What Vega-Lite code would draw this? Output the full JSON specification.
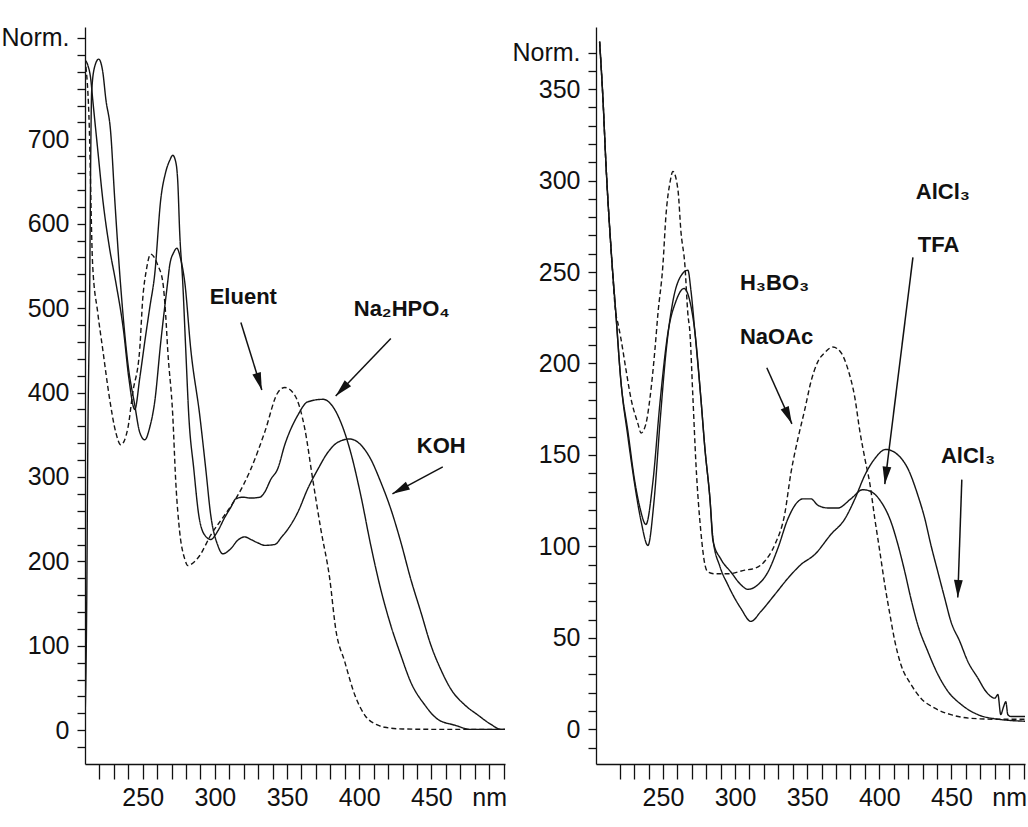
{
  "$schema": "https://vega.github.io/schema/vega-lite/v6.json",
  "background": "white",
  "padding": {"left": 0, "top": 25, "right": 0, "bottom": 0},
  "spacing": 4,
  "config": {
    "view": {"stroke": null},
    "axis": {
      "grid": false,
      "domainColor": "#111111",
      "domainWidth": 1.3,
      "tickColor": "#111111",
      "tickWidth": 1.3,
      "labelColor": "#111111",
      "labelFont": "Liberation Sans, Arial, sans-serif",
      "labelFontSize": 25,
      "labelOverlap": false,
      "labelFlush": false,
      "labelBound": false,
      "tickCount": 200
    }
  },
  "datasets": {
    "left_curves": [
      {"series": "Eluent", "nm": 210, "v": 795}, {"series": "Eluent", "nm": 210.5, "v": 788}, {"series": "Eluent", "nm": 212.7, "v": 729}, {"series": "Eluent", "nm": 215.3, "v": 551}, {"series": "Eluent", "nm": 218.8, "v": 495}, {"series": "Eluent", "nm": 222.3, "v": 451}, {"series": "Eluent", "nm": 227.1, "v": 392}, {"series": "Eluent", "nm": 231.3, "v": 353}, {"series": "Eluent", "nm": 234.8, "v": 338}, {"series": "Eluent", "nm": 239.6, "v": 357}, {"series": "Eluent", "nm": 243.1, "v": 400}, {"series": "Eluent", "nm": 247.9, "v": 451}, {"series": "Eluent", "nm": 250, "v": 511}, {"series": "Eluent", "nm": 252.5, "v": 545}, {"series": "Eluent", "nm": 255.5, "v": 564}, {"series": "Eluent", "nm": 258, "v": 560}, {"series": "Eluent", "nm": 260.4, "v": 551}, {"series": "Eluent", "nm": 263.9, "v": 531}, {"series": "Eluent", "nm": 265.9, "v": 492}, {"series": "Eluent", "nm": 267.3, "v": 451}, {"series": "Eluent", "nm": 270.8, "v": 373}, {"series": "Eluent", "nm": 272.9, "v": 294}, {"series": "Eluent", "nm": 275.6, "v": 235}, {"series": "Eluent", "nm": 279.1, "v": 203}, {"series": "Eluent", "nm": 281.2, "v": 195}, {"series": "Eluent", "nm": 284, "v": 197}, {"series": "Eluent", "nm": 289.5, "v": 207}, {"series": "Eluent", "nm": 297.1, "v": 231}, {"series": "Eluent", "nm": 306.8, "v": 255}, {"series": "Eluent", "nm": 314.4, "v": 274}, {"series": "Eluent", "nm": 324.8, "v": 309}, {"series": "Eluent", "nm": 334.5, "v": 353}, {"series": "Eluent", "nm": 343.6, "v": 400}, {"series": "Eluent", "nm": 348.4, "v": 406}, {"series": "Eluent", "nm": 355.3, "v": 397}, {"series": "Eluent", "nm": 362.3, "v": 357}, {"series": "Eluent", "nm": 367.8, "v": 297}, {"series": "Eluent", "nm": 373.4, "v": 238}, {"series": "Eluent", "nm": 379.6, "v": 179}, {"series": "Eluent", "nm": 383.7, "v": 120}, {"series": "Eluent", "nm": 390, "v": 81}, {"series": "Eluent", "nm": 397, "v": 41.5}, {"series": "Eluent", "nm": 403.8, "v": 18}, {"series": "Eluent", "nm": 412.9, "v": 6}, {"series": "Eluent", "nm": 417.7, "v": 3.5}, {"series": "Eluent", "nm": 430, "v": 1.5}, {"series": "Eluent", "nm": 460, "v": 1}, {"series": "Eluent", "nm": 501, "v": 1},
      {"series": "Na2HPO4", "nm": 210, "v": 794}, {"series": "Na2HPO4", "nm": 211.9, "v": 788}, {"series": "Na2HPO4", "nm": 214, "v": 771}, {"series": "Na2HPO4", "nm": 215.3, "v": 748}, {"series": "Na2HPO4", "nm": 218.8, "v": 688}, {"series": "Na2HPO4", "nm": 222.3, "v": 629}, {"series": "Na2HPO4", "nm": 227.1, "v": 570}, {"series": "Na2HPO4", "nm": 231.3, "v": 531}, {"series": "Na2HPO4", "nm": 236.8, "v": 472}, {"series": "Na2HPO4", "nm": 240.3, "v": 418}, {"series": "Na2HPO4", "nm": 244.5, "v": 380}, {"series": "Na2HPO4", "nm": 248, "v": 418}, {"series": "Na2HPO4", "nm": 251.4, "v": 460}, {"series": "Na2HPO4", "nm": 254.9, "v": 501}, {"series": "Na2HPO4", "nm": 258.3, "v": 540}, {"series": "Na2HPO4", "nm": 262.5, "v": 629}, {"series": "Na2HPO4", "nm": 265.9, "v": 661}, {"series": "Na2HPO4", "nm": 268.7, "v": 675}, {"series": "Na2HPO4", "nm": 270.8, "v": 681}, {"series": "Na2HPO4", "nm": 272.9, "v": 673}, {"series": "Na2HPO4", "nm": 274.3, "v": 649}, {"series": "Na2HPO4", "nm": 275.6, "v": 590}, {"series": "Na2HPO4", "nm": 277.7, "v": 531}, {"series": "Na2HPO4", "nm": 279.8, "v": 451}, {"series": "Na2HPO4", "nm": 281.9, "v": 373}, {"series": "Na2HPO4", "nm": 285.4, "v": 309}, {"series": "Na2HPO4", "nm": 288.8, "v": 255}, {"series": "Na2HPO4", "nm": 293, "v": 231}, {"series": "Na2HPO4", "nm": 297.1, "v": 226}, {"series": "Na2HPO4", "nm": 302, "v": 236}, {"series": "Na2HPO4", "nm": 306.8, "v": 252}, {"series": "Na2HPO4", "nm": 311, "v": 264}, {"series": "Na2HPO4", "nm": 314.4, "v": 274}, {"series": "Na2HPO4", "nm": 319.3, "v": 276}, {"series": "Na2HPO4", "nm": 324.8, "v": 275}, {"series": "Na2HPO4", "nm": 331.1, "v": 276}, {"series": "Na2HPO4", "nm": 334.5, "v": 282}, {"series": "Na2HPO4", "nm": 338.7, "v": 297}, {"series": "Na2HPO4", "nm": 343.6, "v": 310}, {"series": "Na2HPO4", "nm": 348.4, "v": 338}, {"series": "Na2HPO4", "nm": 357.4, "v": 373}, {"series": "Na2HPO4", "nm": 364.3, "v": 389}, {"series": "Na2HPO4", "nm": 375, "v": 392}, {"series": "Na2HPO4", "nm": 381, "v": 385}, {"series": "Na2HPO4", "nm": 387.2, "v": 365}, {"series": "Na2HPO4", "nm": 394.1, "v": 329}, {"series": "Na2HPO4", "nm": 401.1, "v": 278}, {"series": "Na2HPO4", "nm": 408, "v": 219}, {"series": "Na2HPO4", "nm": 414.9, "v": 167}, {"series": "Na2HPO4", "nm": 421.9, "v": 124}, {"series": "Na2HPO4", "nm": 428.8, "v": 89}, {"series": "Na2HPO4", "nm": 435.7, "v": 57}, {"series": "Na2HPO4", "nm": 445.4, "v": 30}, {"series": "Na2HPO4", "nm": 454.4, "v": 13}, {"series": "Na2HPO4", "nm": 466.2, "v": 6}, {"series": "Na2HPO4", "nm": 477.3, "v": 1}, {"series": "Na2HPO4", "nm": 501, "v": 1},
      {"series": "KOH", "nm": 210, "v": 9}, {"series": "KOH", "nm": 211.2, "v": 152}, {"series": "KOH", "nm": 211.9, "v": 329}, {"series": "KOH", "nm": 213.3, "v": 531}, {"series": "KOH", "nm": 214, "v": 685}, {"series": "KOH", "nm": 214.6, "v": 756}, {"series": "KOH", "nm": 216.7, "v": 786}, {"series": "KOH", "nm": 219.5, "v": 795}, {"series": "KOH", "nm": 222.3, "v": 780}, {"series": "KOH", "nm": 224.4, "v": 748}, {"series": "KOH", "nm": 227.8, "v": 708}, {"series": "KOH", "nm": 230.6, "v": 629}, {"series": "KOH", "nm": 234.5, "v": 531}, {"series": "KOH", "nm": 239.6, "v": 436}, {"series": "KOH", "nm": 244.5, "v": 385}, {"series": "KOH", "nm": 247.9, "v": 353}, {"series": "KOH", "nm": 251.4, "v": 344}, {"series": "KOH", "nm": 254.9, "v": 359}, {"series": "KOH", "nm": 258.3, "v": 389}, {"series": "KOH", "nm": 262.5, "v": 460}, {"series": "KOH", "nm": 267.3, "v": 531}, {"series": "KOH", "nm": 268.7, "v": 551}, {"series": "KOH", "nm": 271.5, "v": 566}, {"series": "KOH", "nm": 273.6, "v": 571}, {"series": "KOH", "nm": 276.3, "v": 558}, {"series": "KOH", "nm": 279.1, "v": 531}, {"series": "KOH", "nm": 283.3, "v": 451}, {"series": "KOH", "nm": 289.5, "v": 373}, {"series": "KOH", "nm": 293.7, "v": 309}, {"series": "KOH", "nm": 297.1, "v": 255}, {"series": "KOH", "nm": 302, "v": 219}, {"series": "KOH", "nm": 305.4, "v": 209}, {"series": "KOH", "nm": 311, "v": 215}, {"series": "KOH", "nm": 315.8, "v": 225}, {"series": "KOH", "nm": 320.7, "v": 229}, {"series": "KOH", "nm": 324.8, "v": 226}, {"series": "KOH", "nm": 329.7, "v": 222}, {"series": "KOH", "nm": 334.5, "v": 219}, {"series": "KOH", "nm": 341.5, "v": 220}, {"series": "KOH", "nm": 346.3, "v": 229}, {"series": "KOH", "nm": 350.5, "v": 238}, {"series": "KOH", "nm": 357.4, "v": 258}, {"series": "KOH", "nm": 364.3, "v": 286}, {"series": "KOH", "nm": 371.3, "v": 309}, {"series": "KOH", "nm": 378.2, "v": 329}, {"series": "KOH", "nm": 385.1, "v": 341}, {"series": "KOH", "nm": 393.4, "v": 345}, {"series": "KOH", "nm": 401.1, "v": 338}, {"series": "KOH", "nm": 408, "v": 321}, {"series": "KOH", "nm": 414.9, "v": 294}, {"series": "KOH", "nm": 421.9, "v": 262}, {"series": "KOH", "nm": 428.8, "v": 223}, {"series": "KOH", "nm": 435.7, "v": 179}, {"series": "KOH", "nm": 442.7, "v": 140}, {"series": "KOH", "nm": 449.6, "v": 101}, {"series": "KOH", "nm": 456.5, "v": 72}, {"series": "KOH", "nm": 463.4, "v": 49}, {"series": "KOH", "nm": 473.1, "v": 30}, {"series": "KOH", "nm": 482.2, "v": 18}, {"series": "KOH", "nm": 491.2, "v": 7}, {"series": "KOH", "nm": 498.1, "v": 1}, {"series": "KOH", "nm": 501, "v": 1}
    ],
    "right_curves": [
      {"series": "H3BO3", "nm": 206.1, "v": 376}, {"series": "H3BO3", "nm": 208.4, "v": 345}, {"series": "H3BO3", "nm": 210.5, "v": 309}, {"series": "H3BO3", "nm": 214, "v": 263}, {"series": "H3BO3", "nm": 217.4, "v": 227}, {"series": "H3BO3", "nm": 218.8, "v": 222}, {"series": "H3BO3", "nm": 220.9, "v": 213.5}, {"series": "H3BO3", "nm": 224.3, "v": 197}, {"series": "H3BO3", "nm": 227.8, "v": 181}, {"series": "H3BO3", "nm": 232.7, "v": 167}, {"series": "H3BO3", "nm": 234.8, "v": 162}, {"series": "H3BO3", "nm": 238.2, "v": 167}, {"series": "H3BO3", "nm": 241, "v": 181}, {"series": "H3BO3", "nm": 244.5, "v": 208}, {"series": "H3BO3", "nm": 246.5, "v": 227}, {"series": "H3BO3", "nm": 250, "v": 254}, {"series": "H3BO3", "nm": 252.1, "v": 281}, {"series": "H3BO3", "nm": 254.9, "v": 299}, {"series": "H3BO3", "nm": 256.9, "v": 305}, {"series": "H3BO3", "nm": 260.4, "v": 295}, {"series": "H3BO3", "nm": 262.5, "v": 272}, {"series": "H3BO3", "nm": 265.2, "v": 254}, {"series": "H3BO3", "nm": 267.3, "v": 227}, {"series": "H3BO3", "nm": 268.7, "v": 217}, {"series": "H3BO3", "nm": 270.8, "v": 181}, {"series": "H3BO3", "nm": 272.9, "v": 145}, {"series": "H3BO3", "nm": 276.3, "v": 108}, {"series": "H3BO3", "nm": 279.1, "v": 90}, {"series": "H3BO3", "nm": 281.2, "v": 86}, {"series": "H3BO3", "nm": 286, "v": 85}, {"series": "H3BO3", "nm": 295, "v": 85}, {"series": "H3BO3", "nm": 306.8, "v": 87}, {"series": "H3BO3", "nm": 313.8, "v": 88}, {"series": "H3BO3", "nm": 320.7, "v": 92}, {"series": "H3BO3", "nm": 327.6, "v": 101}, {"series": "H3BO3", "nm": 334.5, "v": 118}, {"series": "H3BO3", "nm": 338.7, "v": 140}, {"series": "H3BO3", "nm": 343.6, "v": 159}, {"series": "H3BO3", "nm": 348.4, "v": 175}, {"series": "H3BO3", "nm": 352.6, "v": 190}, {"series": "H3BO3", "nm": 357.4, "v": 201}, {"series": "H3BO3", "nm": 362.3, "v": 206}, {"series": "H3BO3", "nm": 367.8, "v": 209}, {"series": "H3BO3", "nm": 373.4, "v": 206}, {"series": "H3BO3", "nm": 378.2, "v": 197}, {"series": "H3BO3", "nm": 383.1, "v": 181}, {"series": "H3BO3", "nm": 386.5, "v": 163}, {"series": "H3BO3", "nm": 390, "v": 148}, {"series": "H3BO3", "nm": 393.5, "v": 134}, {"series": "H3BO3", "nm": 396.9, "v": 115}, {"series": "H3BO3", "nm": 400.4, "v": 97}, {"series": "H3BO3", "nm": 403.8, "v": 79}, {"series": "H3BO3", "nm": 407.3, "v": 63}, {"series": "H3BO3", "nm": 410.8, "v": 48}, {"series": "H3BO3", "nm": 414.9, "v": 35.5}, {"series": "H3BO3", "nm": 421.9, "v": 24.6}, {"series": "H3BO3", "nm": 428.8, "v": 17}, {"series": "H3BO3", "nm": 438.5, "v": 11.5}, {"series": "H3BO3", "nm": 449.6, "v": 8}, {"series": "H3BO3", "nm": 463.4, "v": 6}, {"series": "H3BO3", "nm": 480.1, "v": 5.5}, {"series": "H3BO3", "nm": 501, "v": 5.5},
      {"series": "TFA", "nm": 206.1, "v": 376}, {"series": "TFA", "nm": 208.4, "v": 345}, {"series": "TFA", "nm": 210.5, "v": 309}, {"series": "TFA", "nm": 214, "v": 263}, {"series": "TFA", "nm": 217.4, "v": 227}, {"series": "TFA", "nm": 220.9, "v": 190}, {"series": "TFA", "nm": 225.7, "v": 163}, {"series": "TFA", "nm": 230.6, "v": 135}, {"series": "TFA", "nm": 234.1, "v": 121}, {"series": "TFA", "nm": 238.2, "v": 112}, {"series": "TFA", "nm": 243, "v": 135}, {"series": "TFA", "nm": 248, "v": 179}, {"series": "TFA", "nm": 253.5, "v": 217}, {"series": "TFA", "nm": 259, "v": 234}, {"series": "TFA", "nm": 264.6, "v": 241}, {"series": "TFA", "nm": 268.7, "v": 234}, {"series": "TFA", "nm": 272.2, "v": 217}, {"series": "TFA", "nm": 276.3, "v": 181}, {"series": "TFA", "nm": 279.1, "v": 153.5}, {"series": "TFA", "nm": 282.6, "v": 126}, {"series": "TFA", "nm": 284.7, "v": 103}, {"series": "TFA", "nm": 290.2, "v": 93}, {"series": "TFA", "nm": 297.1, "v": 86}, {"series": "TFA", "nm": 304.1, "v": 79}, {"series": "TFA", "nm": 308.9, "v": 76.5}, {"series": "TFA", "nm": 315.8, "v": 79}, {"series": "TFA", "nm": 322.8, "v": 86}, {"series": "TFA", "nm": 329.7, "v": 99}, {"series": "TFA", "nm": 336.6, "v": 115}, {"series": "TFA", "nm": 343.6, "v": 124.5}, {"series": "TFA", "nm": 347, "v": 126}, {"series": "TFA", "nm": 352.6, "v": 126}, {"series": "TFA", "nm": 357.4, "v": 122.5}, {"series": "TFA", "nm": 364.3, "v": 121}, {"series": "TFA", "nm": 371.3, "v": 121}, {"series": "TFA", "nm": 380.3, "v": 126}, {"series": "TFA", "nm": 388.6, "v": 131}, {"series": "TFA", "nm": 394.1, "v": 130}, {"series": "TFA", "nm": 401.1, "v": 124.5}, {"series": "TFA", "nm": 408, "v": 113.6}, {"series": "TFA", "nm": 412.9, "v": 101}, {"series": "TFA", "nm": 417.7, "v": 86}, {"series": "TFA", "nm": 421.9, "v": 71.5}, {"series": "TFA", "nm": 426.7, "v": 57}, {"series": "TFA", "nm": 433.6, "v": 42.6}, {"series": "TFA", "nm": 440.6, "v": 30}, {"series": "TFA", "nm": 447.5, "v": 20.8}, {"series": "TFA", "nm": 456.5, "v": 13.7}, {"series": "TFA", "nm": 468.3, "v": 8}, {"series": "TFA", "nm": 482.2, "v": 5.5}, {"series": "TFA", "nm": 501, "v": 4.4},
      {"series": "AlCl3", "nm": 206.1, "v": 376}, {"series": "AlCl3", "nm": 208.4, "v": 345}, {"series": "AlCl3", "nm": 210.5, "v": 309}, {"series": "AlCl3", "nm": 214, "v": 263}, {"series": "AlCl3", "nm": 217.4, "v": 227}, {"series": "AlCl3", "nm": 220.9, "v": 190}, {"series": "AlCl3", "nm": 225.7, "v": 160}, {"series": "AlCl3", "nm": 230.6, "v": 133}, {"series": "AlCl3", "nm": 234.8, "v": 114}, {"series": "AlCl3", "nm": 239.6, "v": 100.5}, {"series": "AlCl3", "nm": 243.8, "v": 124.5}, {"series": "AlCl3", "nm": 248, "v": 168}, {"series": "AlCl3", "nm": 252.1, "v": 206}, {"series": "AlCl3", "nm": 256.9, "v": 234}, {"series": "AlCl3", "nm": 261.8, "v": 247}, {"series": "AlCl3", "nm": 267.3, "v": 251}, {"series": "AlCl3", "nm": 269.4, "v": 240}, {"series": "AlCl3", "nm": 272.2, "v": 217}, {"series": "AlCl3", "nm": 276.3, "v": 181}, {"series": "AlCl3", "nm": 279.1, "v": 153.5}, {"series": "AlCl3", "nm": 282.6, "v": 126}, {"series": "AlCl3", "nm": 284.7, "v": 104}, {"series": "AlCl3", "nm": 289.5, "v": 89}, {"series": "AlCl3", "nm": 295, "v": 79}, {"series": "AlCl3", "nm": 304.1, "v": 66}, {"series": "AlCl3", "nm": 311, "v": 59}, {"series": "AlCl3", "nm": 317.9, "v": 64.4}, {"series": "AlCl3", "nm": 327.6, "v": 73.7}, {"series": "AlCl3", "nm": 336.6, "v": 82.5}, {"series": "AlCl3", "nm": 345.6, "v": 90}, {"series": "AlCl3", "nm": 355.3, "v": 95.6}, {"series": "AlCl3", "nm": 366.4, "v": 106.5}, {"series": "AlCl3", "nm": 376.1, "v": 115}, {"series": "AlCl3", "nm": 383.1, "v": 126}, {"series": "AlCl3", "nm": 390, "v": 139}, {"series": "AlCl3", "nm": 396.9, "v": 148}, {"series": "AlCl3", "nm": 404.5, "v": 153}, {"series": "AlCl3", "nm": 412.9, "v": 150}, {"series": "AlCl3", "nm": 419.8, "v": 142.5}, {"series": "AlCl3", "nm": 426.7, "v": 128}, {"series": "AlCl3", "nm": 431.6, "v": 115}, {"series": "AlCl3", "nm": 435.7, "v": 101}, {"series": "AlCl3", "nm": 440.6, "v": 86}, {"series": "AlCl3", "nm": 445.4, "v": 71.5}, {"series": "AlCl3", "nm": 449.6, "v": 59}, {"series": "AlCl3", "nm": 455.8, "v": 48}, {"series": "AlCl3", "nm": 461.4, "v": 37}, {"series": "AlCl3", "nm": 468.3, "v": 28}, {"series": "AlCl3", "nm": 473.8, "v": 20.8}, {"series": "AlCl3", "nm": 480.1, "v": 17}, {"series": "AlCl3", "nm": 482.2, "v": 19}, {"series": "AlCl3", "nm": 484.2, "v": 8}, {"series": "AlCl3", "nm": 486, "v": 12}, {"series": "AlCl3", "nm": 487.7, "v": 15}, {"series": "AlCl3", "nm": 489.1, "v": 8}, {"series": "AlCl3", "nm": 491.2, "v": 7}, {"series": "AlCl3", "nm": 501, "v": 7}
    ],
    "left_labels": [
      {"label": "Eluent", "x": 296.4, "y": 505},
      {"label": "Na₂HPO₄", "x": 396.2, "y": 491},
      {"label": "KOH", "x": 439.9, "y": 328}
    ],
    "left_arrows": [
      {"x": 318, "y": 483, "x2": 332.5, "y2": 403},
      {"x": 421.9, "y": 464, "x2": 383.7, "y2": 396},
      {"x": 457.9, "y": 312, "x2": 423, "y2": 280}
    ],
    "right_labels": [
      {"label": "H₃BO₃", "x": 303.4, "y": 240},
      {"label": "NaOAc", "x": 303.4, "y": 210.8},
      {"label": "AlCl₃", "x": 425.3, "y": 290},
      {"label": "TFA", "x": 426.7, "y": 261},
      {"label": "AlCl₃", "x": 442.7, "y": 145.8}
    ],
    "right_arrows": [
      {"x": 322, "y": 197.7, "x2": 339.4, "y2": 167},
      {"x": 423.3, "y": 258, "x2": 403.8, "y2": 134},
      {"x": 457.2, "y": 136.5, "x2": 454.4, "y2": 72}
    ]
  },
  "hconcat": [
    {
      "width": 420,
      "height": 737,
      "layer": [
        {
          "data": {"name": "left_curves"},
          "mark": {"type": "line", "interpolate": "monotone", "strokeWidth": 1.4, "color": "#151515", "clip": true},
          "encoding": {
            "x": {"field": "nm", "type": "quantitative", "title": null,
              "scale": {"domain": [210, 501], "nice": false, "zero": false},
              "axis": {"values": [220, 230, 240, 250, 260, 270, 280, 290, 300, 310, 320, 330, 340, 350, 360, 370, 380, 390, 400, 410, 420, 430, 440, 450, 460, 470, 480, 490, 500],
                "labelExpr": "datum.value == 490 ? 'nm' : ((datum.value % 50 == 0 && datum.value < 500) ? datum.label : '')",
                "tickSize": 15, "labelPadding": 6, "tickCount": 200}},
            "y": {"field": "v", "type": "quantitative", "title": null,
              "scale": {"domain": [-40, 833], "nice": false, "zero": false},
              "axis": {"values": [-20, 0, 20, 40, 60, 80, 100, 120, 140, 160, 180, 200, 220, 240, 260, 280, 300, 320, 340, 360, 380, 400, 420, 440, 460, 480, 500, 520, 540, 560, 580, 600, 620, 640, 660, 680, 700, 720, 740, 760, 780, 800, 820],
                "labelExpr": "datum.value == 820 ? 'Norm.' : ((datum.value % 100 == 0 && datum.value >= 0 && datum.value <= 700) ? datum.label : '')",
                "tickSize": 8, "labelPadding": 8, "tickCount": 200}},
            "detail": {"field": "series"},
            "strokeDash": {"field": "series", "type": "nominal", "legend": null,
              "scale": {"domain": ["Eluent", "Na2HPO4", "KOH"], "range": [[5, 3], [1, 0], [1, 0]]}}
          }
        },
        {
          "data": {"name": "left_arrows"},
          "mark": {"type": "rule", "strokeWidth": 1.5, "color": "#111111"},
          "encoding": {
            "x": {"field": "x", "type": "quantitative", "title": null},
            "y": {"field": "y", "type": "quantitative", "title": null},
            "x2": {"field": "x2"},
            "y2": {"field": "y2"}
          }
        },
        {
          "data": {"name": "left_arrows"},
          "transform": [{"calculate": "(atan2((datum.x2 - datum.x) * 1.443, (datum.y2 - datum.y) * 0.844) * 180 / PI + 360) % 360", "as": "ang"}],
          "mark": {"type": "point", "shape": "M0,0L0.55,2.2L-0.55,2.2Z", "filled": true, "size": 256, "color": "#111111", "opacity": 1},
          "encoding": {
            "x": {"field": "x2", "type": "quantitative", "title": null},
            "y": {"field": "y2", "type": "quantitative", "title": null},
            "angle": {"field": "ang", "type": "quantitative", "scale": null}
          }
        },
        {
          "data": {"name": "left_labels"},
          "mark": {"type": "text", "font": "Liberation Sans, Arial, sans-serif", "fontWeight": "bold", "fontSize": 22, "align": "left", "baseline": "alphabetic", "color": "#111111"},
          "encoding": {
            "x": {"field": "x", "type": "quantitative", "title": null},
            "y": {"field": "y", "type": "quantitative", "title": null},
            "text": {"field": "label"}
          }
        }
      ]
    },
    {
      "width": 429,
      "height": 737,
      "layer": [
        {
          "data": {"name": "right_curves"},
          "mark": {"type": "line", "interpolate": "monotone", "strokeWidth": 1.4, "color": "#151515", "clip": true},
          "encoding": {
            "x": {"field": "nm", "type": "quantitative", "title": null,
              "scale": {"domain": [203.6, 501], "nice": false, "zero": false},
              "axis": {"values": [220, 230, 240, 250, 260, 270, 280, 290, 300, 310, 320, 330, 340, 350, 360, 370, 380, 390, 400, 410, 420, 430, 440, 450, 460, 470, 480, 490, 500],
                "labelExpr": "datum.value == 490 ? 'nm' : ((datum.value % 50 == 0 && datum.value < 500) ? datum.label : '')",
                "tickSize": 15, "labelPadding": 6, "tickCount": 200}},
            "y": {"field": "v", "type": "quantitative", "title": null,
              "scale": {"domain": [-19, 384], "nice": false, "zero": false},
              "axis": {"values": [-10, 0, 10, 20, 30, 40, 50, 60, 70, 80, 90, 100, 110, 120, 130, 140, 150, 160, 170, 180, 190, 200, 210, 220, 230, 240, 250, 260, 270, 280, 290, 300, 310, 320, 330, 340, 350, 360, 370],
                "labelExpr": "datum.value == 370 ? 'Norm.' : ((datum.value % 50 == 0 && datum.value >= 0) ? datum.label : '')",
                "tickSize": 8, "labelPadding": 8, "tickCount": 200}},
            "detail": {"field": "series"},
            "strokeDash": {"field": "series", "type": "nominal", "legend": null,
              "scale": {"domain": ["H3BO3", "TFA", "AlCl3"], "range": [[5, 3], [1, 0], [1, 0]]}}
          }
        },
        {
          "data": {"name": "right_arrows"},
          "mark": {"type": "rule", "strokeWidth": 1.5, "color": "#111111"},
          "encoding": {
            "x": {"field": "x", "type": "quantitative", "title": null},
            "y": {"field": "y", "type": "quantitative", "title": null},
            "x2": {"field": "x2"},
            "y2": {"field": "y2"}
          }
        },
        {
          "data": {"name": "right_arrows"},
          "transform": [{"calculate": "(atan2((datum.x2 - datum.x) * 1.443, (datum.y2 - datum.y) * 1.831) * 180 / PI + 360) % 360", "as": "ang"}],
          "mark": {"type": "point", "shape": "M0,0L0.55,2.2L-0.55,2.2Z", "filled": true, "size": 256, "color": "#111111", "opacity": 1},
          "encoding": {
            "x": {"field": "x2", "type": "quantitative", "title": null},
            "y": {"field": "y2", "type": "quantitative", "title": null},
            "angle": {"field": "ang", "type": "quantitative", "scale": null}
          }
        },
        {
          "data": {"name": "right_labels"},
          "mark": {"type": "text", "font": "Liberation Sans, Arial, sans-serif", "fontWeight": "bold", "fontSize": 22, "align": "left", "baseline": "alphabetic", "color": "#111111"},
          "encoding": {
            "x": {"field": "x", "type": "quantitative", "title": null},
            "y": {"field": "y", "type": "quantitative", "title": null},
            "text": {"field": "label"}
          }
        }
      ]
    }
  ]
}
